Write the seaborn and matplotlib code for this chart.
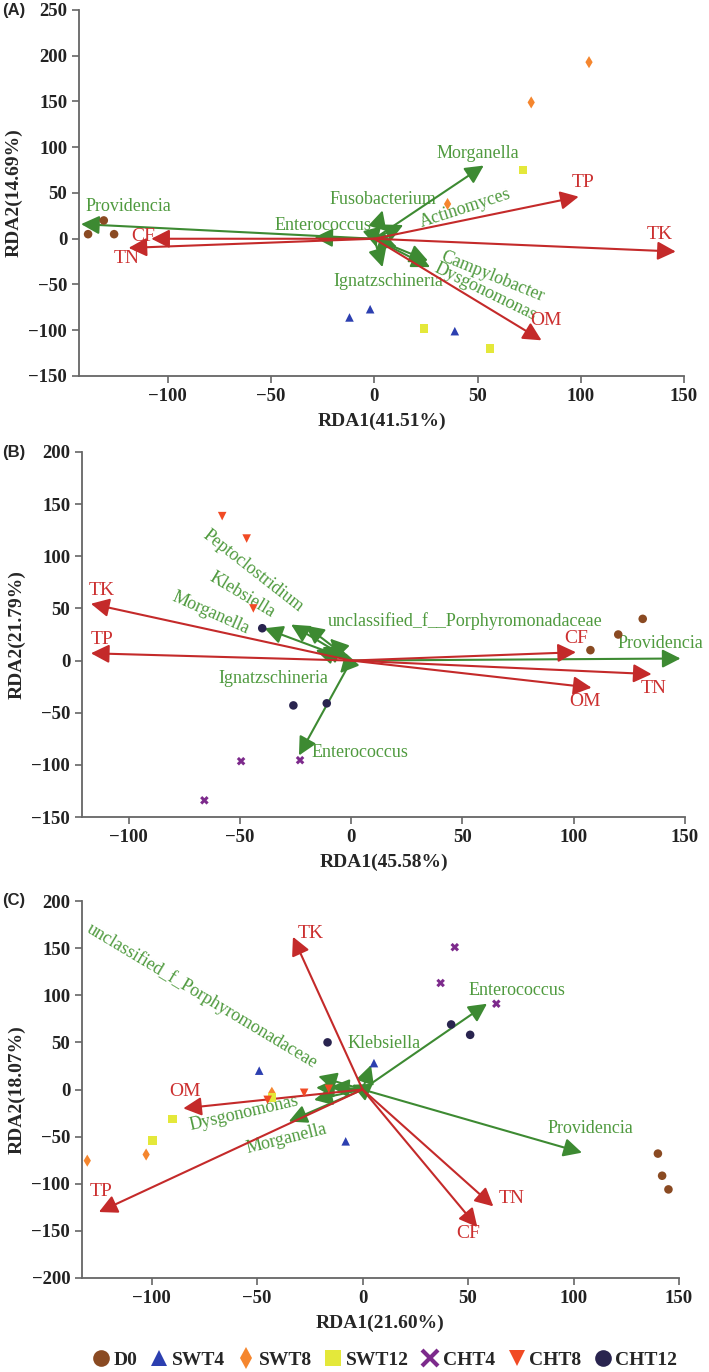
import matplotlib
matplotlib.use("Agg")
import matplotlib.pyplot as plt
from matplotlib.lines import Line2D
import numpy as np
import pandas as pd
import seaborn as sns

### Data
group_order = ['D0', 'SWT4', 'SWT8', 'SWT12', 'CHT4', 'CHT8', 'CHT12']

# Panel A: samples
a_group = ['D0'] * 3 + ['SWT4'] * 3 + ['SWT8'] * 3 + ['SWT12'] * 3
a_x = [-138.6, -131, -126, -12, -2, 39, 104, 76, 35.5, 72, 24, 56]
a_y = [5, 20, 5, -86, -77, -101, 193, 149, 38, 75, -98, -120]
# Panel A: environmental factors / genera (arrow tips)
a_env = ['TP', 'TK', 'OM', 'CF', 'TN']
a_env_x = [99, 146, 81, -108, -119]
a_env_y = [46, -14, -111, 0, -10]
a_gen = ['Providencia', 'Enterococcus', 'Fusobacterium', 'Morganella', 'Actinomyces',
         'Campylobacter', 'Dysgonomonas', 'Ignatzschineria', '', '']
a_gen_x = [-142, -29, 4, 53, 14, 26, 27, 4, 1, 11]
a_gen_y = [16, 1.5, 31, 80, 15, -24, -31, -31, -9, -9]

# Panel B
b_group = ['D0'] * 3 + ['CHT4'] * 3 + ['CHT8'] * 3 + ['CHT12'] * 3
b_x = [131, 120, 107.5, -49.5, -66, -23, -58, -47, -44, -40, -26, -11]
b_y = [40, 25, 10, -96.5, -134, -95.5, 138.5, 117, 50, 31, -43, -41]
b_env = ['TK', 'TP', 'CF', 'TN', 'OM']
b_env_x = [-117, -117, 101, 135, 108]
b_env_y = [54.5, 7, 8, -13, -26]
b_gen = ['Providencia', 'Morganella', 'Klebsiella', 'Peptoclostridium',
         'unclassified_f__Porphyromonadaceae', 'Ignatzschineria', 'Enterococcus', '', '']
b_gen_x = [148, -39, -27, -20.5, -9.5, -5, -23.5, -13, -16]
b_gen_y = [2, 31, 34.5, 33.5, 21, -12, -91, 13, 10]

# Panel C
c_group = (['D0'] * 3 + ['SWT4'] * 3 + ['SWT8'] * 3 + ['SWT12'] * 3
           + ['CHT4'] * 3 + ['CHT8'] * 3 + ['CHT12'] * 3)
c_x = [140, 142, 145, -49, 5.4, -8, -130.5, -102.6, -43, -90, -99.6, -43,
       43.7, 37, 63.4, -45, -27.7, -16, -16.6, 42, 51]
c_y = [-68, -91.5, -106, 20, 28, -55, -75.5, -69, -3.5, -31.5, -54.4, -8.5,
       151, 113, 91, -11, -3.5, 0.7, 50, 69, 58]
c_env = ['TK', 'TP', 'OM', 'TN', 'CF']
c_env_x = [-33, -125, -85, 62, 54.4]
c_env_y = [162, -130, -20, -124, -146]
c_gen = ['Enterococcus', 'Providencia', 'Klebsiella', 'unclassified_f_Porphyromonadaceae',
         'Dysgonomonas', 'Morganella', '', '', '']
c_gen_x = [59, 104, 4, -21, -23, -35, -22, -15, -5]
c_gen_y = [91, -67, 26, 14, -11, -34, 2, 3, 5]

### Styles / layout
palette = {'D0': '#8a4a22', 'SWT4': '#2c3fb0', 'SWT8': '#f5862e', 'SWT12': '#e4e83a',
           'CHT4': '#7d2a8c', 'CHT8': '#f14a24', 'CHT12': '#29244f'}
markers = {'D0': 'o', 'SWT4': '^', 'SWT8': 'd', 'SWT12': 's',
           'CHT4': 'X', 'CHT8': 'v', 'CHT12': 'o'}
RED = '#c42a2a'
RED_TXT = '#cc3030'
GREEN = '#3d8a32'
GREEN_TXT = '#4f9a3e'

# label placement (data coords) and rotation for each arrow label
a_lab = {'TP': (101, 62), 'TK': (138, 5), 'OM': (83, -89), 'CF': (-112, 3), 'TN': (-120, -22),
         'Providencia': (-119, 35, 0), 'Enterococcus': (-25, 15, 0), 'Fusobacterium': (4, 43, 0),
         'Morganella': (50, 93, 0), 'Actinomyces': (44, 33, 18), 'Campylobacter': (57, -42, -22),
         'Dysgonomonas': (54, -58, -26), 'Ignatzschineria': (7, -47, 0)}
b_lab = {'TK': (-112, 67), 'TP': (-112, 20.5), 'CF': (101, 21), 'TN': (136, -27), 'OM': (105, -39),
         'Providencia': (139, 16, 0), 'Morganella': (-63, 45.5, -24), 'Klebsiella': (-49, 63, -31),
         'Peptoclostridium': (-44, 86, -38), 'unclassified_f__Porphyromonadaceae': (51, 37.5, 0),
         'Ignatzschineria': (-35, -17, 0), 'Enterococcus': (4, -88, 0)}
c_lab = {'TK': (-24.7, 166), 'TP': (-124, -108), 'OM': (-84, -2.5), 'TN': (70.5, -115.5),
         'CF': (50, -152.6),
         'Enterococcus': (73, 104.6, 0), 'Providencia': (108, -41, 0), 'Klebsiella': (10, 49, 0),
         'unclassified_f_Porphyromonadaceae': (-76, 99, -31), 'Dysgonomonas': (-56, -25, 13),
         'Morganella': (-36, -52, 14)}

sns.set_style('ticks')
plt.rcParams['font.family'] = ['Liberation Serif', 'DejaVu Serif']
plt.rcParams['axes.unicode_minus'] = True

W, H = 709, 1372
fig = plt.figure(figsize=(W / 100, H / 100), dpi=100)


def draw_arrow(ax, x, y, color):
    ax.annotate('', xy=(x, y), xytext=(0, 0),
                arrowprops=dict(arrowstyle='-|>,head_length=0.65,head_width=0.33',
                                color=color, lw=1.5, shrinkA=0, shrinkB=0,
                                mutation_scale=17))


def rda_panel(rect, tag, gx, gy, groups, env, ex, ey, gen, sx, sy, lab,
              xlim, ylim, yticks, xlabel, ylabel):
    ax = fig.add_axes([rect[0] / W, 1 - rect[3] / H, (rect[2] - rect[0]) / W,
                       (rect[3] - rect[1]) / H])
    # green genus arrows
    for name, x, y in zip(gen, sx, sy):
        draw_arrow(ax, x, y, GREEN)
        if name:
            lx, ly, rot = lab[name]
            ax.text(lx, ly, name, color=GREEN_TXT, fontsize=13, ha='center', va='center',
                    rotation=rot, rotation_mode='anchor')
    # red environmental arrows
    for name, x, y in zip(env, ex, ey):
        draw_arrow(ax, x, y, RED)
        lx, ly = lab[name]
        ax.text(lx, ly, name, color=RED_TXT, fontsize=14, ha='center', va='center')
    df = pd.DataFrame({'x': gx, 'y': gy, 'group': groups})
    sns.scatterplot(data=df, x='x', y='y', hue='group', style='group',
                    palette=palette, markers=markers, s=38, edgecolor='none',
                    legend=False, ax=ax, zorder=3)
    ax.set_xlim(xlim)
    ax.set_ylim(ylim)
    xt = [-100, -50, 0, 50, 100, 150]
    ax.set_xticks(xt)
    ax.set_xticklabels([f'{v}'.replace('-', '\u2212') for v in xt], fontweight='bold', fontsize=13.5)
    ax.set_yticks(yticks)
    ax.set_yticklabels([f'{v}'.replace('-', '\u2212') for v in yticks], fontweight='bold', fontsize=13.5)
    ax.set_xlabel(xlabel, fontweight='bold', fontsize=14, labelpad=6)
    ax.set_ylabel(ylabel, fontweight='bold', fontsize=14, labelpad=4)
    sns.despine(ax=ax)
    for sp in ('left', 'bottom'):
        ax.spines[sp].set_color('#666666')
        ax.spines[sp].set_linewidth(1.3)
    ax.tick_params(colors='#222222', length=5, width=1.2)
    ax.tick_params(axis='both', color='#666666')
    fig.text(2 / W, 1 - rect[1] / H, tag, fontsize=12, fontweight='bold',
             family='Liberation Sans', ha='left', va='center')
    return ax


rda_panel((79, 10, 684, 376), '(A)', a_x, a_y, a_group, a_env, a_env_x, a_env_y,
          a_gen, a_gen_x, a_gen_y, a_lab, (-143, 150), (-150, 250),
          list(range(-150, 251, 50)), 'RDA1(41.51%)', 'RDA2(14.69%)')
rda_panel((82, 452, 685, 817), '(B)', b_x, b_y, b_group, b_env, b_env_x, b_env_y,
          b_gen, b_gen_x, b_gen_y, b_lab, (-121, 150), (-150, 200),
          list(range(-150, 201, 50)), 'RDA1(45.58%)', 'RDA2(21.79%)')
rda_panel((82, 901, 679, 1278), '(C)', c_x, c_y, c_group, c_env, c_env_x, c_env_y,
          c_gen, c_gen_x, c_gen_y, c_lab, (-133, 150), (-200, 200),
          list(range(-200, 201, 50)), 'RDA1(21.60%)', 'RDA2(18.07%)')

# shared legend
handles = []
for g in group_order:
    m = 'x' if g == 'CHT4' else markers[g]
    handles.append(Line2D([], [], linestyle='none', marker=m, color=palette[g],
                          markerfacecolor=palette[g], markeredgewidth=3 if m == 'x' else 0,
                          markersize=11 if m == 'd' else 12, label=g))
fig.legend(handles=handles, loc='center', bbox_to_anchor=(384 / W, 12 / H), ncol=7,
           frameon=False, handletextpad=0.1, columnspacing=0.55, handlelength=1.1,
           prop={'weight': 'bold', 'size': 14, 'family': 'Liberation Serif'})

fig.savefig('out.png', dpi=100)
